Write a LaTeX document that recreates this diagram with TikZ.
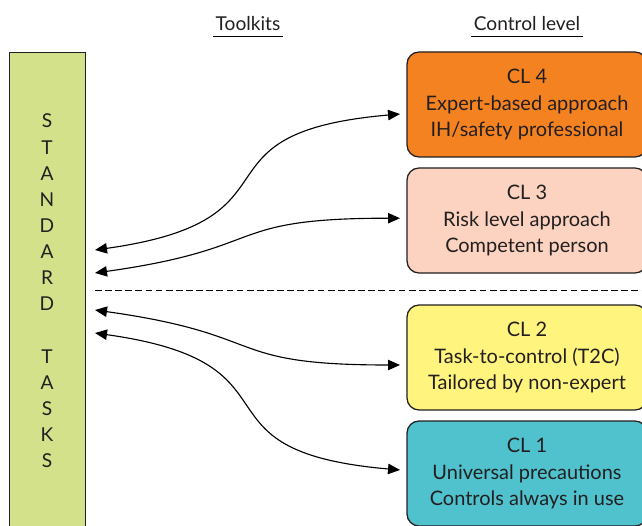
\documentclass[tikz,border=0pt]{standalone}
\usepackage{fontspec}
\setmainfont{Lato}
\usetikzlibrary{arrows.meta}

\definecolor{barfill}{HTML}{D3E18A}
\definecolor{clfour}{HTML}{F58220}
\definecolor{clthree}{HTML}{FBD3C0}
\definecolor{cltwo}{HTML}{FFF47E}
\definecolor{clone}{HTML}{4FC2CD}
\definecolor{edge}{HTML}{231F20}

\begin{document}
\begin{tikzpicture}[thick, >={Triangle[length=0.3cm,width=0.26cm]},
    clbox/.style={draw=edge, line width=0.9pt, rounded corners=0.3cm,
      minimum width=6cm, minimum height=2.625cm, align=center,
      font=\fontsize{14.2}{18.6}\selectfont, text=edge},
    hdr/.style={inner xsep=1.5pt, inner ysep=4pt, text depth=0pt,
      font=\fontsize{13.6}{15}\selectfont, text=edge}]
            \useasboundingbox (0,0) rectangle (16.05,13.125);
            % toolkit column
            \node[draw=edge, line width=0.6pt, fill=barfill, minimum width=1.9cm,
              minimum height=11.95cm, align=center, text=edge,
              font=\fontsize{13.6}{18.6}\selectfont] (bar) at (1.175,5.85)
              {S\\T\\A\\N\\D\\A\\R\\D\\[18.6pt]T\\A\\S\\K\\S};
            \node[hdr] (tk) at (6.2,12.55) {Toolkits};
            \draw[line width=0.6pt] (tk.south west) -- (tk.south east);
            \node[hdr] (cl) at (13.175,12.55) {Control level};
            \draw[line width=0.6pt] (cl.south west) -- (cl.south east);
            % control levels
            \node[clbox, fill=clfour] (cl4) at (13.175,10.5125) {CL 4\\Expert-based approach\\IH/safety professional};
            \node[clbox, fill=clthree] (cl3) at (13.175,7.6125) {CL 3\\Risk level approach\\Competent person};
            \node[clbox, fill=cltwo] (cl2) at (13.175,4.1875) {CL 2\\Task-to-control (T2C)\\Tailored by non-expert};
            \node[clbox, fill=clone] (cl1) at (13.175,1.2875) {CL 1\\Universal precautions\\Controls always in use};
            % dashed split
            \coordinate (d1) at (2.375,5.875);
            \coordinate (d2) at (16.05,5.875);
            \draw[thin, dash pattern=on 4.8pt off 2.4pt] (d1) -- (d2);
            % arrows
            \coordinate (t4) at (2.375,6.875);
            \coordinate (t3) at (2.375,6.3);
            \coordinate (t2) at (2.375,5.375);
            \coordinate (t1) at (2.375,4.8);
            \coordinate (e4) at (10,10.275);
            \coordinate (e3) at (10,7.67);
            \coordinate (e2) at (10,4.0);
            \coordinate (e1) at (10,1.375);
            \draw[<->] (t4) to[out=8,in=185,looseness=1.68] (e4);
            \draw[<->] (t3) to[out=8,in=180,looseness=1.48] (e3);
            \draw[<->] (t2) to[out=-8,in=180,looseness=1.48] (e2);
            \draw[<->] (t1) to[out=-8,in=175,looseness=1.68] (e1);
        \end{tikzpicture}
\end{document}
